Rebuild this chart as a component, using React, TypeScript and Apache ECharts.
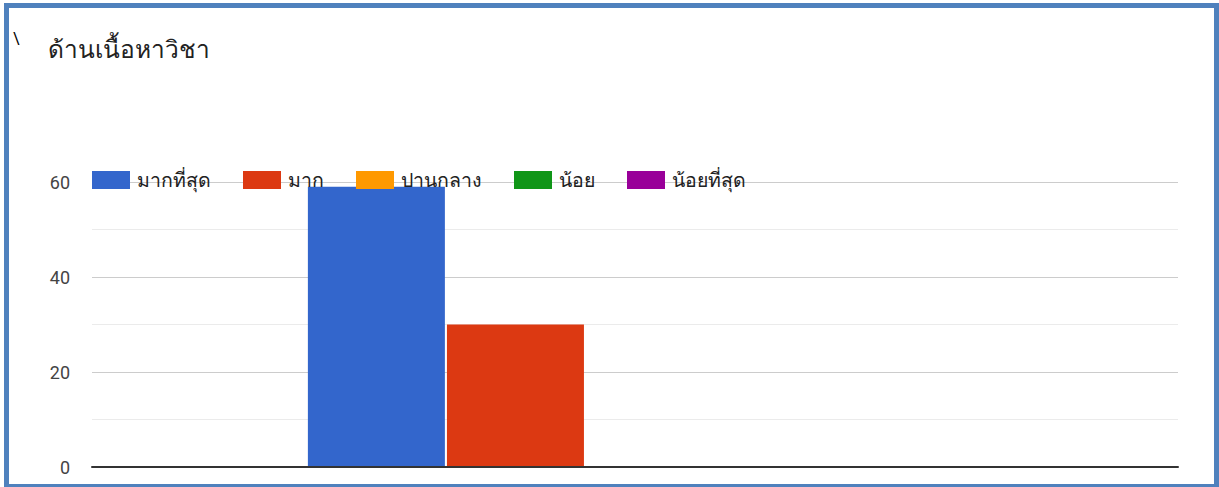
import React, { useEffect, useRef } from "react";
import * as echarts from "echarts";

const titleText = "ด้านเนื้อหาวิชา";
const categories = [""];
const seriesNames = ["มากที่สุด", "มาก", "ปานกลาง", "น้อย", "น้อยที่สุด"];
const seriesValues = [59, 30, 0, 0, 0];
const seriesColors = ["#3366cc", "#dc3912", "#ff9900", "#109618", "#990099"];
const yTicks = { min: 0, max: 60, interval: 20 };

export default function App() {
  const ref = useRef<HTMLDivElement>(null);
  useEffect(() => {
    if (!ref.current) return;
    const chart = echarts.init(ref.current, undefined, { renderer: "svg" });
    const font = "Roboto, 'Noto Sans', Arial, sans-serif";
    const option: any = {
      animation: false,
      backgroundColor: "#ffffff",
      textStyle: { fontFamily: font },
      legend: {
        data: seriesNames,
        left: 87,
        top: 165,
        itemWidth: 38,
        itemHeight: 18,
        itemGap: 32,
        icon: "rect",
        textStyle: { fontSize: 19.5, color: "#222", fontFamily: font, padding: [0, 0, 0, 2] },
      },
      grid: [
        { left: 92, right: 41, top: 182, bottom: 20 },
        { left: 131, right: 41, top: 182, bottom: 20 },
      ],
      xAxis: [
        {
          type: "category",
          gridIndex: 0,
          data: categories,
          axisLine: { show: true, lineStyle: { color: "#333", width: 2 } },
          axisTick: { show: false },
          axisLabel: { show: false },
          z: 5,
        },
        {
          type: "category",
          gridIndex: 1,
          data: categories,
          axisLine: { show: false },
          axisTick: { show: false },
          axisLabel: { show: false },
        },
      ],
      yAxis: [
        {
          type: "value",
          gridIndex: 0,
          min: yTicks.min,
          max: yTicks.max,
          interval: yTicks.interval,
          axisLine: { show: false },
          axisTick: { show: false },
          axisLabel: { fontSize: 18, color: "#444", margin: 22, fontFamily: font },
          splitLine: { lineStyle: { color: "#cccccc", width: 1 } },
          minorTick: { show: false, splitNumber: 2 },
          minorSplitLine: { show: true, lineStyle: { color: "#ebebeb", width: 1 } },
        },
        {
          type: "value",
          gridIndex: 1,
          min: yTicks.min,
          max: yTicks.max,
          interval: yTicks.interval,
          axisLine: { show: false },
          axisTick: { show: false },
          axisLabel: { show: false },
          splitLine: { show: false },
        },
      ],
      series: seriesNames.map((name, i) => ({
        name,
        type: "bar",
        xAxisIndex: 1,
        yAxisIndex: 1,
        data: [seriesValues[i]],
        barWidth: 137,
        barGap: "1.5%",
        itemStyle: { color: seriesColors[i] },
      })),
      graphic: [
        {
          type: "rect",
          silent: true,
          shape: { x: 6.5, y: 5.5, width: 1210, height: 481 },
          style: { fill: "none", stroke: "#4f81bd", lineWidth: 5 },
          z: 100,
        },
        {
          type: "text",
          left: 13,
          top: 30,
          style: { text: "\\", fontSize: 16, fill: "#000", fontFamily: font },
        },
        {
          type: "text",
          left: 48,
          top: 37,
          style: { text: titleText, fontSize: 24.5, fill: "#222", fontFamily: font },
        },
      ],
    };
    chart.setOption(option);
    return () => chart.dispose();
  }, []);
  return (
    <div
      ref={ref}
      style={{ position: "fixed", left: 0, top: 0, width: 1219, height: 487 }}
    />
  );
}
